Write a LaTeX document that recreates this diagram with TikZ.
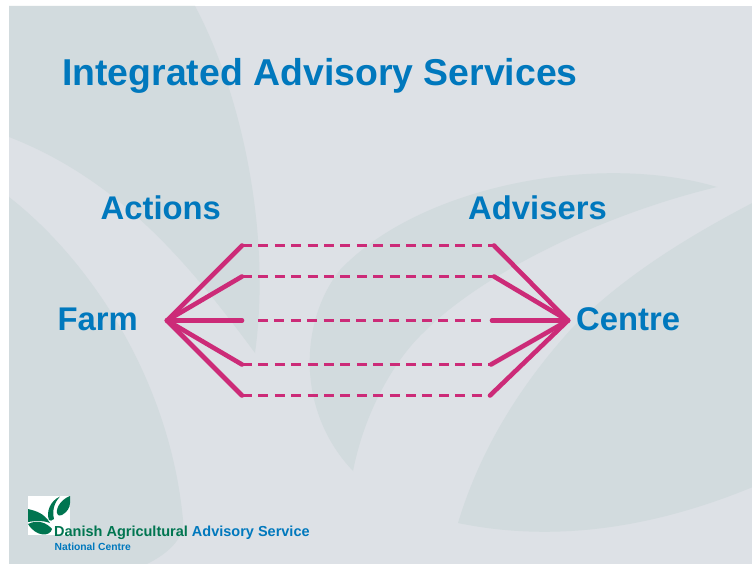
\documentclass[tikz,border=0pt]{standalone}
\usepackage{fontspec}
\setmainfont{Liberation Sans}
\definecolor{slidebg}{HTML}{DDE1E6}
\definecolor{leafcol}{HTML}{D2DBDE}
\definecolor{bluetext}{HTML}{0078BD}
\definecolor{linkcol}{HTML}{CC2B78}
\definecolor{logogreen}{HTML}{007550}
\tikzset{
  x=1pt,y=-1pt,
  leaf/.style={fill=leafcol,draw=none},
  logoleaf/.style={fill=logogreen,draw=none},
  heading/.style={anchor=base west,inner sep=0pt,text=bluetext,font=\fontsize{32.8}{36}\selectfont\bfseries},
  titletext/.style={anchor=base west,inner sep=0pt,text=bluetext,font=\fontsize{37.4}{40}\selectfont\bfseries},
  solidlink/.style={draw=linkcol,line width=4.6pt,line cap=round},
  dashlink/.style={draw=linkcol,line width=3.4pt,dash pattern=on 10pt off 6.4pt},
}
\begin{document}
\begin{tikzpicture}
\useasboundingbox (0,0) rectangle (752,564);
\fill[white] (0,0) rectangle (752,564);
\begin{scope}
\clip (9,6) rectangle (752,564);
\fill[slidebg] (9,6) rectangle (752,564);
% top-left leaf
\fill[leaf] (9,6) -- (195,6) .. controls (240,90) and (272,230) .. (255,353)
  .. controls (190,265) and (120,180) .. (9,137) -- cycle;
% bottom-left leaf
\fill[leaf] (9,197) .. controls (90,260) and (170,380) .. (183,520)
  .. controls (185,540) and (165,555) .. (147,564) -- (9,564) -- cycle;
% central right leaf
\fill[leaf] (717,187) .. controls (600,152) and (420,185) .. (340,270)
  .. controls (300,320) and (295,410) .. (353,471)
  .. controls (365,410) and (395,360) .. (423,333)
  .. controls (480,275) and (600,215) .. (717,187) -- cycle;
% lower right leaf
\fill[leaf] (760,199) .. controls (690,235) and (625,275) .. (573,327)
  .. controls (520,385) and (480,450) .. (458,523)
  .. controls (540,540) and (640,535) .. (760,484) -- cycle;
\end{scope}
% logo
\fill[white] (28,496) rectangle (70,535);
\fill[logoleaf] (60,496.5) .. controls (50,501) and (46,512) .. (49,520) .. controls (50,521) and (52,521) .. (54,519) .. controls (52,511) and (54,503) .. (60,496.5) -- cycle;
\fill[logoleaf] (70,496) .. controls (62,499) and (56,507) .. (57,513) .. controls (58,516) and (60,516) .. (62,515) .. controls (67,512) and (70,508) .. (70,503) -- cycle;
\fill[logoleaf] (28,509) .. controls (36,511) and (44,513) .. (50,523) .. controls (42,520) and (34,521) .. (28,522) -- cycle;
\fill[logoleaf] (28,524) .. controls (38,519) and (47,523) .. (52,529) .. controls (50,537) and (36,537) .. (28,524) -- cycle;
% texts
\node[titletext] (title) at (62,86) {Integrated Advisory Services};
\node[heading] (actions) at (100.5,219) {Actions};
\node[heading] (advisers) at (468,219) {Advisers};
\node[heading] (farm) at (57.5,330.5) {Farm};
\node[heading] (centre) at (576,330.5) {Centre};
\node[anchor=base west,inner sep=0pt,font=\fontsize{14.5}{16}\selectfont\bfseries] (logotext) at (54,536)
  {\textcolor{logogreen}{Danish Agricultural} \textcolor{bluetext}{Advisory Service}};
\node[anchor=base west,inner sep=0pt,text=bluetext,font=\fontsize{10.3}{11}\selectfont\bfseries] (natcentre) at (54.5,550) {National Centre};
% connectors
\coordinate (hubL) at (167,320.5);
\coordinate (hubR) at (568,320.5);
\foreach \n/\yy/\xr/\xa/\xb in {1/245.5/494/242/494, 2/276.5/494/242/494, 3/320.5/492/258/483, 4/364.5/491/242/491, 5/395.5/490/242/490}{
  \coordinate (L\n) at (242,\yy);
  \coordinate (R\n) at (\xr,\yy);
  \coordinate (DA\n) at (\xa,\yy);
  \coordinate (DB\n) at (\xb,\yy);
  \draw[dashlink] (DA\n) -- (DB\n);
  \draw[solidlink] (hubL) -- (L\n);
  \draw[solidlink] (hubR) -- (R\n);
}
\end{tikzpicture}
\end{document}
